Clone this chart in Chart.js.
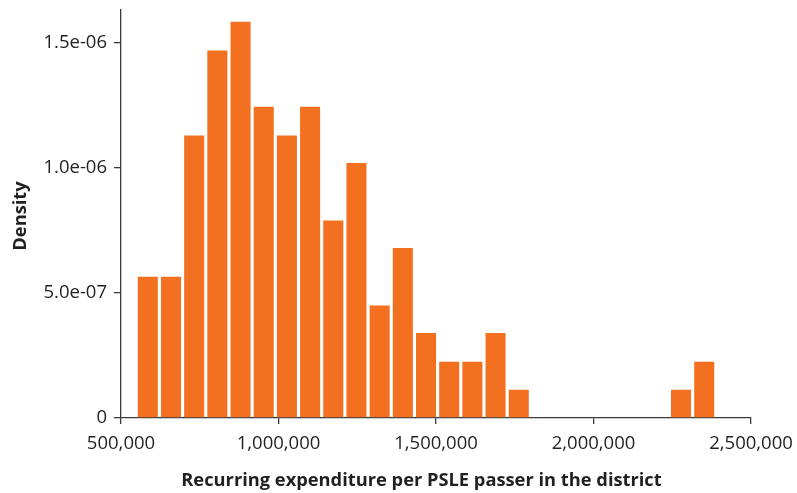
<!DOCTYPE html>
<html>
<head>
<meta charset="utf-8">
<script src="https://cdn.jsdelivr.net/npm/chart.js@4.4.1/dist/chart.umd.min.js"></script>
<style>
  html, body { margin: 0; padding: 0; background: #fff; }
  #wrap { width: 797px; height: 493px; }
</style>
</head>
<body>
<div id="wrap"><canvas id="histChart" width="797" height="493"></canvas></div>
<script>
// bin centres (expenditure) and density per bin
const binCentres = [585100, 658700, 732300, 805900, 879500, 953100, 1026700, 1100300,
  1173900, 1247500, 1321100, 1394700, 1468300, 1541900, 1615500, 1689100, 1762700,
  1836300, 1909900, 1983500, 2057100, 2130700, 2204300, 2277900, 2351500];
const densities = [5.65e-7, 5.65e-7, 1.13e-6, 1.47e-6, 1.585e-6, 1.245e-6, 1.13e-6, 1.245e-6,
  7.9e-7, 1.02e-6, 4.5e-7, 6.8e-7, 3.4e-7, 2.25e-7, 2.25e-7, 3.4e-7, 1.13e-7,
  0, 0, 0, 0, 0, 0, 1.13e-7, 2.25e-7];

const xTicks = [500000, 1000000, 1500000, 2000000, 2500000];
const xTickLabels = ['500,000', '1,000,000', '1,500,000', '2,000,000', '2,500,000'];
const yTicks = [0, 5e-7, 1e-6, 1.5e-6];
const yTickLabels = ['0', '5.0e-07', '1.0e-06', '1.5e-06'];

const xTitle = 'Recurring expenditure per PSLE passer in the district';
const yTitle = 'Density';

const barColour = '#F37021';
const textColour = '#231F20';
const axisColour = '#3a3a3a';
const fontFamily = '"Open Sans", "DejaVu Sans", sans-serif';

// axis titles drawn by hand because the x title is not centred on the axis
const axisTitles = {
  id: 'axisTitles',
  afterDraw(chart) {
    const ctx = chart.ctx;
    ctx.save();
    ctx.fillStyle = textColour;
    ctx.font = 'bold 18.3px ' + fontFamily;
    ctx.textAlign = 'center';
    ctx.textBaseline = 'middle';
    ctx.fillText(xTitle, 421.5, 481);
    ctx.translate(21, 216);
    ctx.rotate(-Math.PI / 2);
    ctx.fillText(yTitle, 0, 0);
    ctx.restore();
  }
};

// stop tick labels from pushing the plot area around
function noOverflow(scale) {
  scale.paddingTop = 0;
  scale.paddingBottom = 0;
  scale.paddingLeft = 0;
  scale.paddingRight = 0;
}

const ctx = document.getElementById('histChart').getContext('2d');
const myChart = new Chart(ctx, {
  type: 'bar',
  data: {
    datasets: [{
      data: binCentres.map((x, i) => ({ x: x, y: densities[i] })),
      backgroundColor: barColour,
      borderWidth: 0,
      categoryPercentage: 1,
      barPercentage: 0.865
    }]
  },
  options: {
    responsive: false,
    animation: false,
    layout: { padding: { top: 10, right: 46, bottom: 0, left: 0 } },
    plugins: {
      legend: { display: false },
      tooltip: { enabled: false }
    },
    scales: {
      x: {
        type: 'linear',
        offset: false,
        min: 500000,
        max: 2500000,
        afterBuildTicks: (scale) => { scale.ticks = xTicks.map(v => ({ value: v })); },
        afterFit: (scale) => { scale.height = 75; noOverflow(scale); },
        border: { display: true, color: axisColour, width: 1.3 },
        grid: { offset: false, drawOnChartArea: false, drawTicks: true, tickLength: 6, color: axisColour, lineWidth: 1.3 },
        ticks: {
          autoSkip: false,
          maxRotation: 0,
          padding: 9,
          color: textColour,
          font: { family: fontFamily, size: 18.5 },
          callback: (value, index) => xTickLabels[index]
        }
      },
      y: {
        min: 0,
        max: 1.632e-6,
        afterBuildTicks: (scale) => { scale.ticks = yTicks.map(v => ({ value: v })); },
        afterFit: (scale) => { scale.width = 121; noOverflow(scale); },
        border: { display: true, color: axisColour, width: 1.3 },
        grid: { drawOnChartArea: false, drawTicks: true, tickLength: 7, color: axisColour, lineWidth: 1.3 },
        ticks: {
          padding: 7,
          color: textColour,
          font: { family: fontFamily, size: 18.5 },
          callback: (value, index) => yTickLabels[index]
        }
      }
    }
  },
  plugins: [axisTitles]
});
</script>
</body>
</html>
